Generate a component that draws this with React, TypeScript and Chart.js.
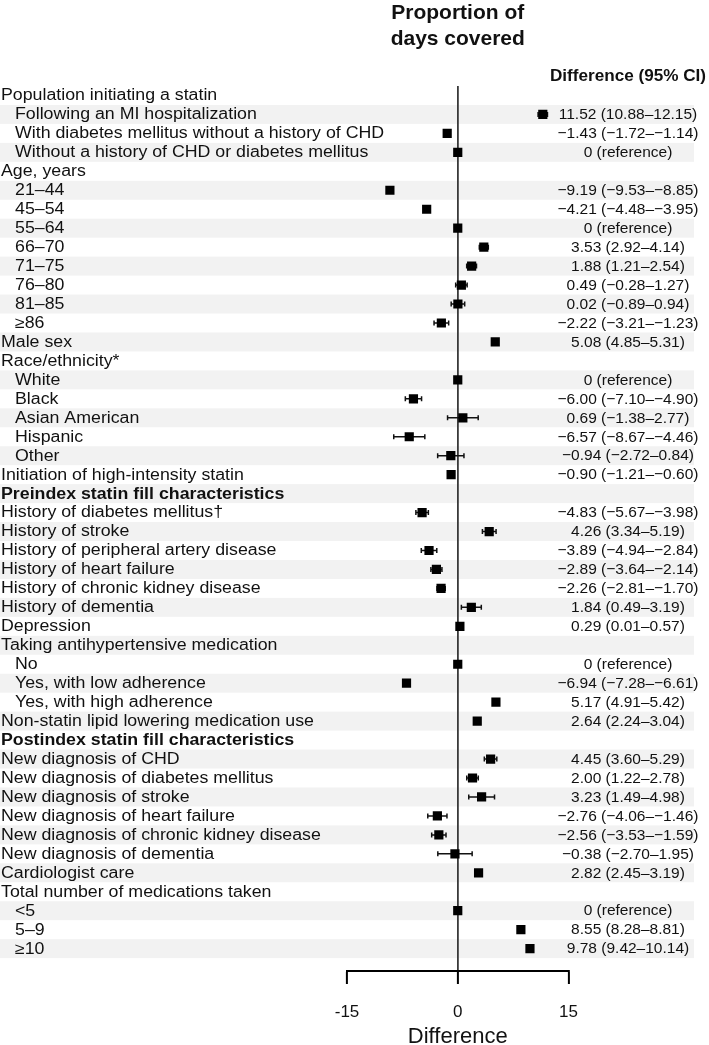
import React, { useEffect, useRef } from 'react';
import { Chart, registerables } from 'chart.js';

Chart.register(...registerables);

const rowLabels: string[] = [
  'Population initiating a statin',
  'Following an MI hospitalization',
  'With diabetes mellitus without a history of CHD',
  'Without a history of CHD or diabetes mellitus',
  'Age, years',
  '21–44',
  '45–54',
  '55–64',
  '66–70',
  '71–75',
  '76–80',
  '81–85',
  '≥86',
  'Male sex',
  'Race/ethnicity*',
  'White',
  'Black',
  'Asian American',
  'Hispanic',
  'Other',
  'Initiation of high-intensity statin',
  'Preindex statin fill characteristics',
  'History of diabetes mellitus†',
  'History of stroke',
  'History of peripheral artery disease',
  'History of heart failure',
  'History of chronic kidney disease',
  'History of dementia',
  'Depression',
  'Taking antihypertensive medication',
  'No',
  'Yes, with low adherence',
  'Yes, with high adherence',
  'Non-statin lipid lowering medication use',
  'Postindex statin fill characteristics',
  'New diagnosis of CHD',
  'New diagnosis of diabetes mellitus',
  'New diagnosis of stroke',
  'New diagnosis of heart failure',
  'New diagnosis of chronic kidney disease',
  'New diagnosis of dementia',
  'Cardiologist care',
  'Total number of medications taken',
  '<5',
  '5–9',
  '≥10',
];

const indentedRows: number[] = [1, 2, 3, 5, 6, 7, 8, 9, 10, 11, 12, 15, 16, 17, 18, 19, 30, 31, 32, 43, 44, 45];
const boldRows: number[] = [21, 34];

const estimates: (number | null)[] = [
  null, 11.52, -1.43, 0,
  null, -9.19, -4.21, 0, 3.53, 1.88, 0.49, 0.02, -2.22,
  5.08,
  null, 0, -6.0, 0.69, -6.57, -0.94,
  -0.9,
  null, -4.83, 4.26, -3.89, -2.89, -2.26, 1.84, 0.29,
  null, 0, -6.94, 5.17,
  2.64,
  null, 4.45, 2.0, 3.23, -2.76, -2.56, -0.38, 2.82,
  null, 0, 8.55, 9.78,
];

const lowerCI: (number | null)[] = [
  null, 10.88, -1.72, null,
  null, -9.53, -4.48, null, 2.92, 1.21, -0.28, -0.89, -3.21,
  4.85,
  null, null, -7.1, -1.38, -8.67, -2.72,
  -1.21,
  null, -5.67, 3.34, -4.94, -3.64, -2.81, 0.49, 0.01,
  null, null, -7.28, 4.91,
  2.24,
  null, 3.6, 1.22, 1.49, -4.06, -3.53, -2.7, 2.45,
  null, null, 8.28, 9.42,
];

const upperCI: (number | null)[] = [
  null, 12.15, -1.14, null,
  null, -8.85, -3.95, null, 4.14, 2.54, 1.27, 0.94, -1.23,
  5.31,
  null, null, -4.9, 2.77, -4.46, 0.84,
  -0.6,
  null, -3.98, 5.19, -2.84, -2.14, -1.7, 3.19, 0.57,
  null, null, -6.61, 5.42,
  3.04,
  null, 5.29, 2.78, 4.98, -1.46, -1.59, 1.95, 3.19,
  null, null, 8.81, 10.14,
];

const xTicks: number[] = [-15, 0, 15];
const titleLines: string[] = ['Proportion of', 'days covered'];
const columnHeader = 'Difference (95% CI)';
const xAxisTitle = 'Difference';

const FONT = '"Liberation Sans", Arial, Helvetica, sans-serif';
const LABEL_SIZE = 16;
const LABEL_STRETCH = 1.11;
const NUM_SIZE = 15.5;
const TEXT_COL_X = 628;
const STRIPE_RIGHT = 694;

const fmt = (v: number) => v.toFixed(2).replace('-', '\u2212');
const ciText = (i: number): string => {
  const e = estimates[i];
  if (e === null) return '';
  const lo = lowerCI[i];
  const hi = upperCI[i];
  if (lo === null || hi === null) return '0 (reference)';
  return `${fmt(e)} (${fmt(lo)}–${fmt(hi)})`;
};

const drawStretched = (ctx: CanvasRenderingContext2D, text: string, x: number, y: number, sx: number) => {
  ctx.save();
  ctx.translate(x, y);
  ctx.scale(sx, 1);
  ctx.fillText(text, 0, 0);
  ctx.restore();
};

const forestPlugin = {
  id: 'forestPlugin',
  beforeDraw(chart: any) {
    const { ctx, scales } = chart;
    const y = scales.y;
    const pitch = Math.abs(y.getPixelForValue(2) - y.getPixelForValue(1));
    ctx.save();
    ctx.fillStyle = '#f2f2f2';
    rowLabels.forEach((_, i) => {
      if (i % 2 === 1) {
        const cy = y.getPixelForValue(i + 1);
        ctx.fillRect(0, cy - pitch / 2, STRIPE_RIGHT, pitch);
      }
    });
    ctx.restore();
  },
  beforeDatasetsDraw(chart: any) {
    const { ctx, scales } = chart;
    const { x, y } = scales;
    ctx.save();
    ctx.strokeStyle = '#111';
    ctx.lineWidth = 1.5;
    rowLabels.forEach((_, i) => {
      const lo = lowerCI[i];
      const hi = upperCI[i];
      if (lo === null || hi === null) return;
      const cy = y.getPixelForValue(i + 1);
      const x1 = x.getPixelForValue(lo);
      const x2 = x.getPixelForValue(hi);
      ctx.beginPath();
      ctx.moveTo(x1, cy);
      ctx.lineTo(x2, cy);
      ctx.moveTo(x1, cy - 2.5);
      ctx.lineTo(x1, cy + 2.5);
      ctx.moveTo(x2, cy - 2.5);
      ctx.lineTo(x2, cy + 2.5);
      ctx.stroke();
    });
    ctx.restore();
  },
  afterDraw(chart: any) {
    const { ctx, scales, chartArea } = chart;
    const y = scales.y;
    ctx.save();
    ctx.fillStyle = '#111';
    ctx.textBaseline = 'middle';
    rowLabels.forEach((label, i) => {
      const cy = y.getPixelForValue(i + 1);
      const bold = boldRows.includes(i);
      ctx.font = `${bold ? 'bold ' : ''}${LABEL_SIZE}px ${FONT}`;
      ctx.textAlign = 'left';
      const xPos = indentedRows.includes(i) ? 15 : 1;
      drawStretched(ctx, label, xPos, cy + 0.5, LABEL_STRETCH);
    });
    ctx.font = `${NUM_SIZE}px ${FONT}`;
    ctx.textAlign = 'center';
    rowLabels.forEach((_, i) => {
      const t = ciText(i);
      if (!t) return;
      ctx.fillText(t, TEXT_COL_X, y.getPixelForValue(i + 1) + 0.5);
    });
    ctx.font = `bold 16px ${FONT}`;
    drawStretched(ctx, columnHeader, TEXT_COL_X, 77, 1.07);
    ctx.font = `bold 21px ${FONT}`;
    const cx = (chartArea.left + chartArea.right) / 2;
    titleLines.forEach((line, k) => {
      ctx.fillText(line, cx, 13 + k * 26);
    });
    ctx.restore();
  },
};

export default function App() {
  const canvasRef = useRef<HTMLCanvasElement | null>(null);

  useEffect(() => {
    if (!canvasRef.current) return;
    const points = estimates
      .map((e, i) => (e === null ? null : { x: e, y: i + 1 }))
      .filter((p) => p !== null) as { x: number; y: number }[];

    const chart = new Chart(canvasRef.current, {
      type: 'scatter',
      data: {
        datasets: [
          {
            data: points,
            pointStyle: 'rect',
            pointRadius: 6.5,
            pointHoverRadius: 6.5,
            pointBackgroundColor: '#000',
            pointBorderWidth: 0,
            borderWidth: 0,
          },
        ],
      },
      options: {
        animation: false,
        responsive: false,
        events: [],
        layout: { padding: { left: 347, right: 140.5, top: 86, bottom: 0 } },
        plugins: {
          legend: { display: false },
          tooltip: { enabled: false },
        },
        scales: {
          x: {
            type: 'linear',
            min: -15,
            max: 15,
            afterBuildTicks: (axis: any) => {
              axis.ticks = xTicks.map((v) => ({ value: v }));
            },
            grid: {
              drawOnChartArea: true,
              color: (c: any) => (c.tick && c.tick.value === 0 ? '#3a3a3a' : 'rgba(0,0,0,0)'),
              lineWidth: 1.8,
              tickColor: '#000',
              tickWidth: 2,
              tickLength: 13,
            },
            border: { display: true, color: '#000', width: 2 },
            ticks: {
              font: { family: FONT, size: 17 },
              color: '#111',
              padding: 17.8,
            },
            title: {
              display: true,
              text: xAxisTitle,
              font: { family: FONT, size: 22 },
              color: '#111',
              padding: { top: -16.2, bottom: -5.2 },
            },
          },
          y: {
            type: 'linear',
            display: false,
            reverse: true,
            min: 0.5,
            max: 47.18,
          },
        },
      },
      plugins: [forestPlugin],
    });
    return () => chart.destroy();
  }, []);

  return (
    <div style={{ position: 'absolute', left: 0, top: 0, width: 709, height: 1045 }}>
      <canvas ref={canvasRef} width={709} height={1045} style={{ display: 'block' }} />
    </div>
  );
}
